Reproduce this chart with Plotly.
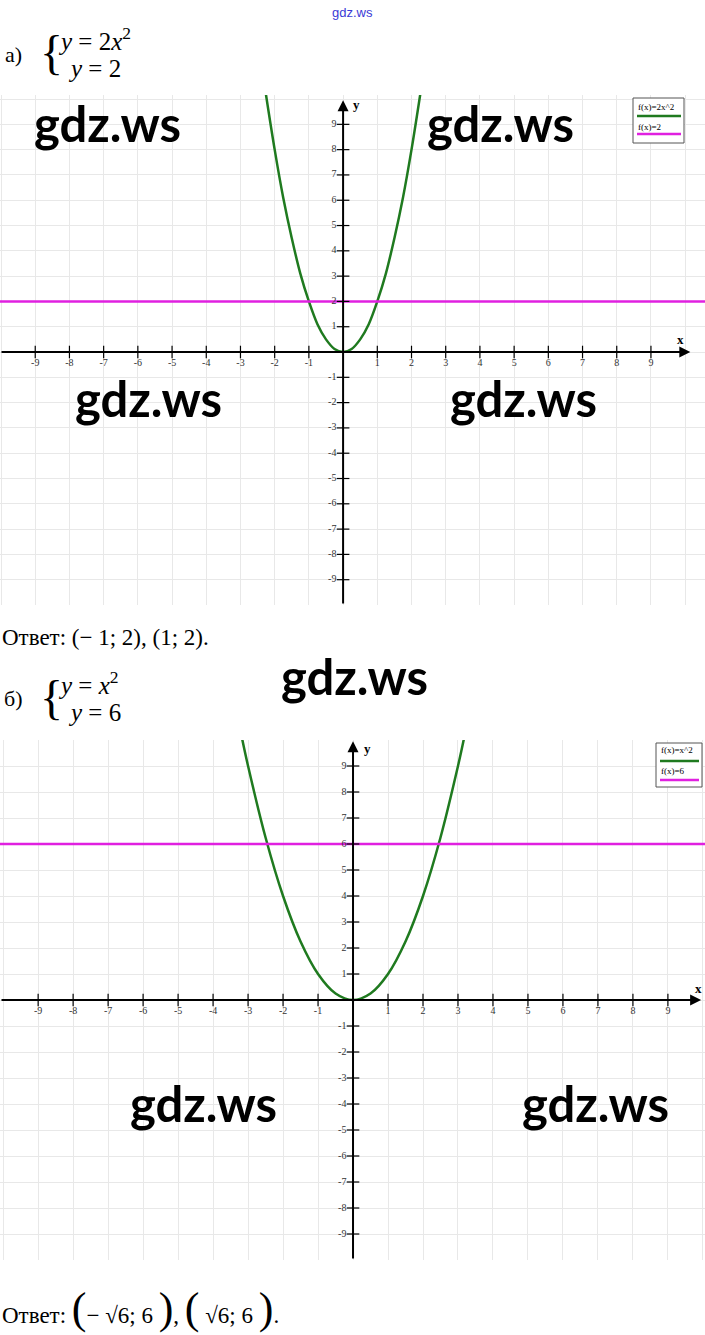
"""Two systems of equations solved graphically (gdz page)."""
import plotly.graph_objects as go

W, H = 705, 1335

# ---- data ----
ticks = [-9, -8, -7, -6, -5, -4, -3, -2, -1, 1, 2, 3, 4, 5, 6, 7, 8, 9]
tick_labels = [str(t) for t in ticks]

# a) y = 2x^2 and y = 2
a_curve_x = [-2.28, -2, -1.75, -1.5, -1.25, -1, -0.75, -0.5, -0.25, 0,
             0.25, 0.5, 0.75, 1, 1.25, 1.5, 1.75, 2, 2.28]
a_curve_y = [10.4, 8, 6.1, 4.5, 3.1, 2, 1.1, 0.5, 0.12, 0,
             0.12, 0.5, 1.1, 2, 3.1, 4.5, 6.1, 8, 10.4]
a_line_y = 2

# b) y = x^2 and y = 6
b_curve_x = [-3.17, -3, -2.5, -2, -1.5, -1, -0.5, 0, 0.5, 1, 1.5, 2, 2.5, 3, 3.17]
b_curve_y = [10.05, 9, 6.25, 4, 2.25, 1, 0.25, 0, 0.25, 1, 2.25, 4, 6.25, 9, 10.05]
b_line_y = 6

GREEN = "#1f7a1f"
MAGENTA = "#e020e0"
SERIF = "Liberation Serif"


def px(x):
    return x / W


def py(y):
    return 1 - y / H


fig = go.Figure()


def add_panel(xa, ya, xr, yr, cx, cy, hline, tip_x, tip_y):
    xref, yref = xa, ya
    # parabola
    fig.add_trace(go.Scatter(x=cx, y=cy, mode="lines", line=dict(color=GREEN, width=2.5, shape="spline"),
                             xaxis=xref, yaxis=yref, hoverinfo="skip"))
    # horizontal line
    fig.add_trace(go.Scatter(x=[xr[0], xr[1]], y=[hline, hline], mode="lines",
                             line=dict(color=MAGENTA, width=2.5),
                             xaxis=xref, yaxis=yref, hoverinfo="skip"))
    # axes with arrows
    fig.add_annotation(x=tip_x, y=0, ax=xr[0], ay=0, xref=xref, yref=yref,
                       axref=xref, ayref=yref, text="", showarrow=True,
                       arrowhead=2, arrowsize=1.1, arrowwidth=2, arrowcolor="black")
    fig.add_annotation(x=0, y=tip_y, ax=0, ay=yr[0], xref=xref, yref=yref,
                       axref=xref, ayref=yref, text="", showarrow=True,
                       arrowhead=2, arrowsize=1.1, arrowwidth=2, arrowcolor="black")
    # tick marks + labels
    fig.add_trace(go.Scatter(x=ticks, y=[0] * len(ticks), mode="markers+text",
                             text=tick_labels, textposition="bottom center",
                             textfont=dict(family=SERIF, size=10, color="#333"),
                             marker=dict(symbol="line-ns-open", size=9, color="black",
                                         line=dict(width=1.2, color="black")),
                             xaxis=xref, yaxis=yref, hoverinfo="skip"))
    fig.add_trace(go.Scatter(x=[0] * len(ticks), y=ticks, mode="markers+text",
                             text=tick_labels, textposition="middle left",
                             textfont=dict(family=SERIF, size=10, color="#333"),
                             marker=dict(symbol="line-ew-open", size=9, color="black",
                                         line=dict(width=1.2, color="black")),
                             xaxis=xref, yaxis=yref, hoverinfo="skip"))


add_panel("x", "y", [-10.03, 10.58], [-10.0, 10.16], a_curve_x, a_curve_y, a_line_y, 10.15, 9.95)
add_panel("x2", "y2", [-10.09, 10.06], [-10.0, 10.0], b_curve_x, b_curve_y, b_line_y, 9.95, 9.95)

grid = dict(showgrid=True, gridcolor="#e8e8e8", gridwidth=1, dtick=1, tick0=0,
            zeroline=False, showticklabels=False, showline=False, ticks="", fixedrange=True)

fig.update_layout(
    width=W, height=H, margin=dict(l=0, r=0, t=0, b=0),
    paper_bgcolor="white", plot_bgcolor="white", showlegend=False,
    xaxis=dict(domain=[0, 1], range=[-10.03, 10.58], anchor="y", **grid),
    yaxis=dict(domain=[py(605), py(95)], range=[-10.0, 10.16], anchor="x", **grid),
    xaxis2=dict(domain=[0, 1], range=[-10.09, 10.06], anchor="y2", **grid),
    yaxis2=dict(domain=[py(1260), py(740)], range=[-10.0, 10.0], anchor="x2", **grid),
)


def text(x, y, s, size=20, family=SERIF, color="black", xanchor="left", bold=False):
    fig.add_annotation(x=px(x), y=py(y), xref="paper", yref="paper", text=f"<b>{s}</b>" if bold else s,
                       showarrow=False, xanchor=xanchor, yanchor="middle",
                       font=dict(family=family, size=size, color=color))


# axis names
text(680, 339, "x", size=13, bold=True, xanchor="center")
text(357, 104, "y", size=13, bold=True, xanchor="center")
text(698, 988, "x", size=13, bold=True, xanchor="center")
text(367, 748, "y", size=13, bold=True, xanchor="center")

# legends
for (x0, y0, x1, y1, l1, l2, t1y, g_y, t2y, m_y) in [
    (633, 98, 684, 143, "f(x)=2x^2", "f(x)=2", 107, 116, 127, 134),
    (656, 743, 702, 787, "f(x)=x^2", "f(x)=6", 750, 761, 771, 780),
]:
    fig.add_shape(type="rect", xref="paper", yref="paper", x0=px(x0), x1=px(x1), y0=py(y1), y1=py(y0),
                  line=dict(color="#555", width=1), fillcolor="white")
    text(x0 + 3, t1y, l1, size=9)
    text(x0 + 3, t2y, l2, size=9)
    fig.add_shape(type="line", xref="paper", yref="paper", x0=px(x0 + 4), x1=px(x1 - 3), y0=py(g_y), y1=py(g_y),
                  line=dict(color=GREEN, width=2.5))
    fig.add_shape(type="line", xref="paper", yref="paper", x0=px(x0 + 4), x1=px(x1 - 3), y0=py(m_y), y1=py(m_y),
                  line=dict(color=MAGENTA, width=2.5))

# headings of the two systems
text(3, 55, "а)", size=22)
text(38, 53, "{", size=48)
text(56, 39, "<i>y</i> = 2<i>x</i><sup>2</sup>", size=25)
text(66, 69, "<i>y</i> = 2", size=25)
text(0, 637, "Ответ: (− 1; 2), (1; 2).", size=23)

text(2, 698, "б)", size=22)
text(38, 697, "{", size=48)
text(56, 683, "<i>y</i> = <i>x</i><sup>2</sup>", size=25)
text(66, 713, "<i>y</i> = 6", size=25)
text(0, 1308, "Ответ: <span style='font-size:44px'>(</span>− √6; 6 <span style='font-size:44px'>)</span>, "
              "<span style='font-size:44px'>(</span> √6; 6 <span style='font-size:44px'>)</span>.", size=23)

# watermarks
text(352, 12, "gdz.ws", size=13, family="Arial", color="#3b3bd6", xanchor="center")
for (wx, wy) in [(107, 123), (500, 123), (148, 398), (523, 398), (355, 676), (204, 1103), (595, 1103)]:
    text(wx, wy, "gdz.ws", size=49, family="Lato", bold=True, xanchor="center")

# page body has a default 8px margin; drop it so the figure sits at the window's corner
fig.write_html("out.html", config={"displayModeBar": False},
               post_script="document.body.style.margin='0';")
